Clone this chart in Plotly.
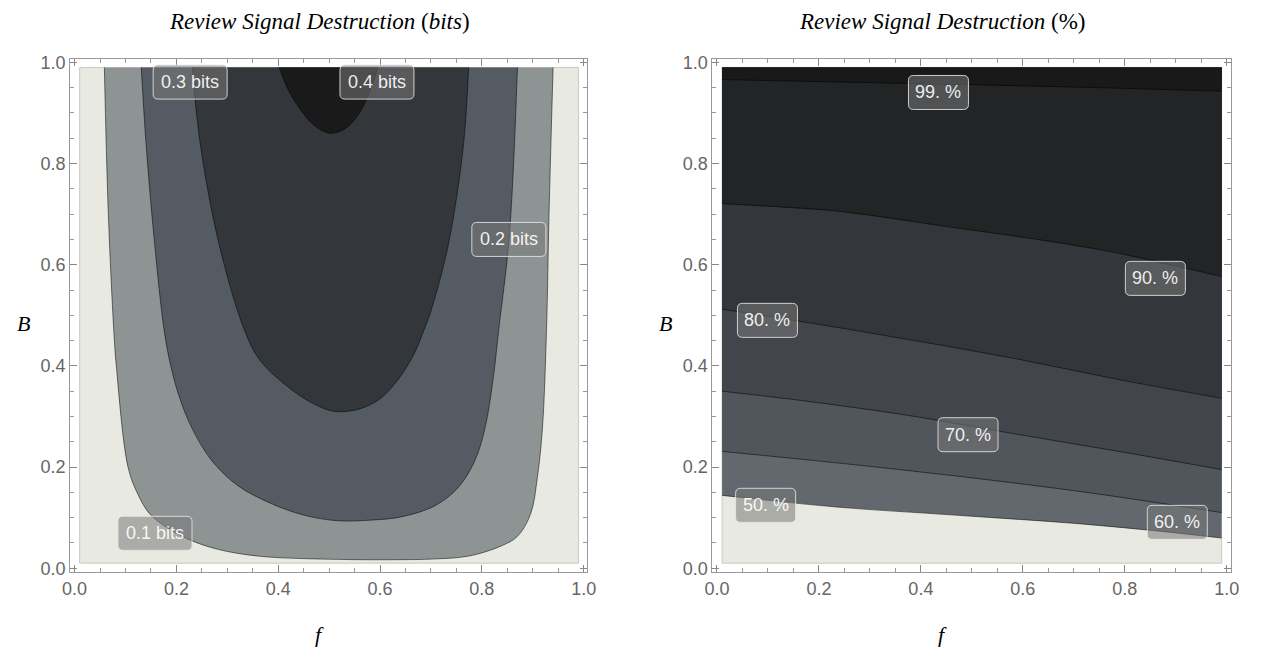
import plotly.graph_objects as go

# ---------------- data ----------------
DATA_MIN, DATA_MAX = 0.01, 0.99   # plotted domain of f and B

# Left panel: contour lines of "Review Signal Destruction (bits)"; each open at the top edge
bits_levels = [0.1, 0.2, 0.3, 0.4]
bits_f = {
    0.1: [0.0585, 0.066, 0.077, 0.082, 0.105, 0.124, 0.147, 0.179, 0.224, 0.283, 0.36, 0.45, 0.55,
          0.65, 0.70, 0.774, 0.838, 0.87, 0.896, 0.909, 0.919, 0.927, 0.932, 0.94],
    0.2: [0.131, 0.1405, 0.157, 0.176, 0.189, 0.205, 0.231, 0.27, 0.321, 0.386, 0.45, 0.515, 0.58,
          0.644, 0.709, 0.754, 0.786, 0.806, 0.822, 0.833, 0.854, 0.87],
    0.3: [0.231, 0.247, 0.283, 0.334, 0.365, 0.425, 0.47, 0.51, 0.56, 0.60, 0.631, 0.664, 0.686,
          0.702, 0.735, 0.764, 0.774],
    0.4: [0.402, 0.42, 0.445, 0.47, 0.50, 0.53, 0.555, 0.577, 0.596],
}
bits_B = {
    0.1: [0.99, 0.709, 0.47, 0.40, 0.20, 0.147, 0.108, 0.082, 0.057, 0.037, 0.024, 0.019, 0.017,
          0.017, 0.018, 0.024, 0.044, 0.063, 0.108, 0.179, 0.276, 0.47, 0.70, 0.99],
    0.2: [0.99, 0.838, 0.644, 0.47, 0.40, 0.341, 0.276, 0.212, 0.163, 0.128, 0.105, 0.094, 0.095,
          0.102, 0.124, 0.16, 0.212, 0.276, 0.373, 0.47, 0.657, 0.99],
    0.3: [0.99, 0.838, 0.644, 0.47, 0.41, 0.354, 0.325, 0.31, 0.315, 0.335, 0.367, 0.418, 0.47,
          0.515, 0.644, 0.838, 0.99],
    0.4: [0.99, 0.945, 0.905, 0.876, 0.86, 0.868, 0.893, 0.935, 0.99],
}
bits_label_text = ["0.1 bits", "0.2 bits", "0.3 bits", "0.4 bits"]
bits_label_f = [0.158, 0.853, 0.227, 0.594]
bits_label_B = [0.069, 0.65, 0.961, 0.961]

# Right panel: contour lines of "Review Signal Destruction (%)", left edge to right edge
pct_levels = [50, 60, 70, 80, 90, 99]
pct_f = {
    50: [0.01, 0.235, 0.467, 0.699, 0.854, 0.99],
    60: [0.01, 0.235, 0.467, 0.699, 0.854, 0.99],
    70: [0.01, 0.17, 0.376, 0.582, 0.788, 0.99],
    80: [0.01, 0.17, 0.376, 0.582, 0.788, 0.99],
    90: [0.01, 0.235, 0.467, 0.622, 0.777, 0.893, 0.99],
    99: [0.01, 0.25, 0.5, 0.75, 0.99],
}
pct_B = {
    50: [0.144, 0.121, 0.105, 0.0888, 0.0746, 0.0597],
    60: [0.231, 0.2083, 0.1826, 0.1535, 0.131, 0.110],
    70: [0.350, 0.331, 0.302, 0.266, 0.231, 0.195],
    80: [0.512, 0.487, 0.452, 0.415, 0.373, 0.336],
    90: [0.7206, 0.706, 0.673, 0.651, 0.625, 0.599, 0.5766],
    99: [0.966, 0.961, 0.956, 0.950, 0.943],
}
pct_label_text = ["50. %", "60. %", "70. %", "80. %", "90. %", "99. %"]
pct_label_f = [0.0954, 0.903, 0.4925, 0.099, 0.86, 0.4345]
pct_label_B = [0.1244, 0.0907, 0.264, 0.49, 0.573, 0.9405]

tick_vals = [0.0, 0.2, 0.4, 0.6, 0.8, 1.0]
tick_text = ["0.0", "0.2", "0.4", "0.6", "0.8", "1.0"]

# ---------------- styles ----------------
LIGHT = "#E8E9E1"
bits_colors = {0.1: "#8E9494", 0.2: "#545B62", 0.3: "#33373B", 0.4: "#1A1A1A"}
pct_colors = {50: "#62686E", 60: "#50565C", 70: "#42464C", 80: "#33363A", 90: "#232426", 99: "#191919"}
LINE_COL = "rgba(0,0,0,0.65)"
W, H = 1264, 659

fig = go.Figure()


def add_background(xa, ya):
    fig.add_trace(go.Scatter(
        x=[DATA_MIN, DATA_MAX, DATA_MAX, DATA_MIN, DATA_MIN],
        y=[DATA_MIN, DATA_MIN, DATA_MAX, DATA_MAX, DATA_MIN],
        mode="lines", fill="toself", fillcolor=LIGHT,
        line=dict(color="#C9CAC4", width=1), xaxis=xa, yaxis=ya,
        hoverinfo="skip", showlegend=False))


# Left panel
add_background("x", "y")
for lv in bits_levels:
    fx, by = bits_f[lv], bits_B[lv]
    fig.add_trace(go.Scatter(x=fx, y=by, mode="lines", fill="toself",
                             fillcolor=bits_colors[lv], line=dict(width=0, color=bits_colors[lv]),
                             line_shape="spline", xaxis="x", yaxis="y",
                             hoverinfo="skip", showlegend=False))
for lv in bits_levels:
    fig.add_trace(go.Scatter(x=bits_f[lv], y=bits_B[lv], mode="lines",
                             line=dict(width=0.8, color=LINE_COL), line_shape="spline",
                             xaxis="x", yaxis="y", hoverinfo="skip", showlegend=False))

# Right panel
add_background("x2", "y2")
for lv in pct_levels:
    fx = pct_f[lv] + [DATA_MAX, DATA_MIN]
    by = pct_B[lv] + [DATA_MAX, DATA_MAX]
    fig.add_trace(go.Scatter(x=fx, y=by, mode="lines", fill="toself",
                             fillcolor=pct_colors[lv], line=dict(width=0, color=pct_colors[lv]),
                             xaxis="x2", yaxis="y2", hoverinfo="skip", showlegend=False))
for lv in pct_levels:
    fig.add_trace(go.Scatter(x=pct_f[lv], y=pct_B[lv], mode="lines",
                             line=dict(width=0.8, color=LINE_COL), line_shape="spline",
                             xaxis="x2", yaxis="y2", hoverinfo="skip", showlegend=False))


def rounded_rect(w, h, r):
    x0, x1, y0, y1 = -w / 2, w / 2, -h / 2, h / 2
    return (f"M {x0 + r},{y0} L {x1 - r},{y0} Q {x1},{y0} {x1},{y0 + r} "
            f"L {x1},{y1 - r} Q {x1},{y1} {x1 - r},{y1} L {x0 + r},{y1} "
            f"Q {x0},{y1} {x0},{y1 - r} L {x0},{y0 + r} Q {x0},{y0} {x0 + r},{y0} Z")


shapes = []
annotations = []


def add_labels(texts, fs, bs, xref, yref, box_w):
    for t, fx, by in zip(texts, fs, bs):
        shapes.append(dict(type="path", xref=xref, yref=yref, xsizemode="pixel", ysizemode="pixel",
                           xanchor=fx, yanchor=by, path=rounded_rect(box_w, 34, 5),
                           fillcolor="rgba(120,120,120,0.55)",
                           line=dict(color="rgba(230,230,230,0.85)", width=1), layer="above"))
        annotations.append(dict(x=fx, y=by, xref=xref, yref=yref, text=t, showarrow=False,
                                font=dict(family="Liberation Sans, Arial, sans-serif", size=18,
                                          color="rgba(255,255,255,0.92)"),
                                xanchor="center", yanchor="middle"))


add_labels(bits_label_text, bits_label_f, bits_label_B, "x", "y", 74)
add_labels(pct_label_text, pct_label_f, pct_label_B, "x2", "y2", 60)

SERIF = "Liberation Serif, Times New Roman, serif"
titles = [
    ("<i>Review Signal Destruction</i> (<i>bits</i>)", 316),
    ("<i>Review Signal Destruction</i> (%)", 947),
]
for txt, px in titles:
    annotations.append(dict(x=px / W, y=1 - 15 / H, xref="paper", yref="paper", text=txt,
                            showarrow=False, xanchor="center", yanchor="middle",
                            font=dict(family=SERIF, size=23, color="black")))
for px in [16, 666]:
    annotations.append(dict(x=px / W, y=1 - 323 / H, xref="paper", yref="paper", text="<i>B</i>",
                            showarrow=False, xanchor="center", yanchor="middle",
                            font=dict(family=SERIF, size=22, color="black")))
for px in [316, 947]:
    annotations.append(dict(x=px / W, y=1 - 640 / H, xref="paper", yref="paper", text="<i>f</i>",
                            showarrow=False, xanchor="center", yanchor="middle",
                            font=dict(family=SERIF, size=22, color="black")))


def axis_style(domain, rng):
    return dict(domain=domain, range=rng, showgrid=False, zeroline=False,
                showline=True, linecolor="#999999", linewidth=1, mirror="ticks",
                ticks="inside", ticklen=7, tickwidth=1, tickcolor="#888888",
                tickvals=tick_vals, ticktext=tick_text,
                tickfont=dict(family="Liberation Sans, Arial, sans-serif", size=18, color="#666666"),
                minor=dict(ticks="inside", ticklen=4, tickwidth=1, tickcolor="#999999", dtick=0.05,
                           tick0=0, showgrid=False),
                fixedrange=True)


ydom = [(H - 576.7) / H, (H - 53.3) / H]
fig.update_layout(
    width=W, height=H, margin=dict(l=0, r=0, t=0, b=0),
    paper_bgcolor="white", plot_bgcolor="white",
    xaxis=axis_style([63 / W, 587 / W], [-0.0087, 1.0068]),
    yaxis=axis_style(ydom, [-0.0081, 1.0062]),
    xaxis2=axis_style([714 / W, 1240 / W], [-0.009, 1.009]),
    yaxis2=axis_style(ydom, [-0.0081, 1.0062]),
    shapes=shapes, annotations=annotations, showlegend=False,
)
fig.layout.yaxis2.anchor = "x2"
fig.layout.xaxis2.anchor = "y2"

fig.write_html("out.html")
